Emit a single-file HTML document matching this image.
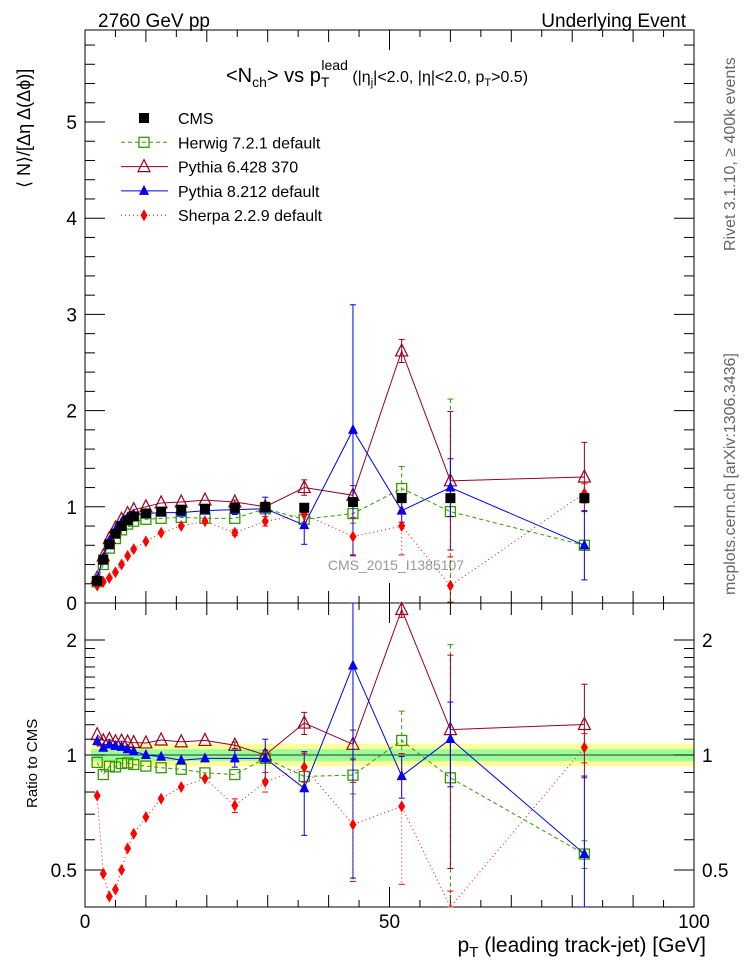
<!DOCTYPE html>
<html><head><meta charset="utf-8"><style>
body{margin:0;background:#fff;}
svg{display:block;font-family:"Liberation Sans",sans-serif;}
</style></head><body>
<svg id="plot" width="746" height="972" viewBox="0 0 746 972" xmlns="http://www.w3.org/2000/svg">
<text x="98" y="27" font-size="19">2760 GeV pp</text>
<text x="686" y="27" font-size="19" text-anchor="end">Underlying Event</text>
<text x="226" y="82" font-size="20">&lt;N<tspan font-size="14" dy="5">ch</tspan><tspan dy="-5">&gt; vs p</tspan><tspan font-size="14" dy="5">T</tspan><tspan font-size="14" dx="-8" dy="-17">lead</tspan><tspan font-size="16" dy="12"> (|η</tspan><tspan font-size="11" dy="4">j</tspan><tspan font-size="16" dy="-4">|&lt;2.0, |η|&lt;2.0, p</tspan><tspan font-size="11" dy="4">T</tspan><tspan font-size="16" dy="-4">&gt;0.5)</tspan></text>
<text x="396" y="570" font-size="14" fill="#999" text-anchor="middle">CMS_2015_I1385107</text>
<text transform="translate(735,595) rotate(-90)" font-size="16" fill="#666">mcplots.cern.ch [arXiv:1306.3436]</text>
<text transform="translate(735,251) rotate(-90)" font-size="16" fill="#666">Rivet 3.1.10, ≥ 400k events</text>
<text transform="translate(30,188) rotate(-90)" font-size="18">⟨ N⟩/[Δη Δ(Δϕ)]</text>
<text transform="translate(37,808) rotate(-90)" font-size="15">Ratio to CMS</text>
<text x="706" y="952" font-size="21" text-anchor="end">p<tspan font-size="15" dy="5">T</tspan><tspan dy="-5"> (leading track-jet) [GeV]</tspan></text>
<g id="main"></g>
<g id="ratio"></g>
<g id="legend"></g>
</svg>
<script>
const pt = [2,3,4,5,6,7,8,10,12.5,15.8,19.7,24.6,29.6,36,44,52,60,82];
const cms = [0.23,0.45,0.61,0.72,0.80,0.86,0.90,0.93,0.95,0.97,0.98,0.99,1.0,0.99,1.05,1.09,1.09,1.09];
const herwig = [0.22,0.40,0.57,0.67,0.76,0.82,0.85,0.87,0.88,0.89,0.88,0.88,0.98,0.87,0.93,1.19,0.95,0.60];
const herwigErr = [0,0,0,0,0,0,0,0,0,0,0,0,0.03,0.05,0.1,0.23,1.17,0.05];
const pythia6 = [0.26,0.49,0.67,0.78,0.87,0.93,0.97,1.0,1.04,1.05,1.07,1.05,1.0,1.2,1.12,2.62,1.27,1.31];
const pythia6Err = [0,0,0,0,0,0,0,0,0,0,0,0.02,0.03,0.08,0.1,0.12,0.72,0.36];
const pythia8 = [0.25,0.47,0.65,0.76,0.84,0.89,0.92,0.93,0.94,0.94,0.96,0.97,0.98,0.81,1.80,0.96,1.20,0.60];
const pythia8Err = [0,0,0,0,0,0,0,0,0,0,0,0.05,0.12,0.2,1.3,0.12,0.3,0.36];
const sherpa = [0.18,0.22,0.26,0.32,0.40,0.49,0.56,0.64,0.73,0.80,0.85,0.73,0.85,0.92,0.69,0.80,0.18,1.14];
const sherpaErr = [0,0,0,0,0,0,0,0,0,0,0,0.03,0.05,0.08,0.2,0.3,0.3,0.1];
const mainYTicks = [0,1,2,3,4,5];
const ratioYTicks = [0.5,1,2];
const xTicks = [0,50,100];

const NS="http://www.w3.org/2000/svg";
const X0=85,X1=694,MT=30,MB=603,RT=603,RB=907;
const xs=v=>X0+(v/100)*(X1-X0);
const ym=v=>MB-96.2*v;
const yr=v=>755-382*Math.log10(v);
function el(tag,attrs,parent){const e=document.createElementNS(NS,tag);for(const k in attrs)e.setAttribute(k,attrs[k]);parent.appendChild(e);return e;}
const main=document.getElementById('main'),ratio=document.getElementById('ratio'),legend=document.getElementById('legend');

const band1=el('rect',{x:xs(1),y:yr(1.07),width:X1-xs(1),height:yr(0.935)-yr(1.07),fill:'#ffff99'},ratio);


const band2=el('rect',{x:xs(1),y:yr(1.035),width:X1-xs(1),height:yr(0.965)-yr(1.035),fill:'#99ff99'},ratio);


el('line',{x1:xs(1),x2:X1,y1:yr(1),y2:yr(1),stroke:'#333','stroke-width':1},ratio);

[[MT,MB],[RT,RB]].forEach(([t,b],i)=>{
  const f=el('rect',{x:X0,y:t,width:X1-X0,height:b-t,fill:'none',stroke:'#000','stroke-width':1},i?ratio:main);
  
  
  for(let v=0;v<=100;v+=5){
    const L=v%50==0?20:(v%10==0?12:7);
    el('line',{x1:xs(v),x2:xs(v),y1:b,y2:b-L,stroke:'#000'},i?ratio:main);
    el('line',{x1:xs(v),x2:xs(v),y1:t,y2:t+L,stroke:'#000'},i?ratio:main);
  }
});
for(let v=0;v<=5.9;v+=0.2){const m=Math.abs(v-Math.round(v))<0.01;const L=m?20:10;
  el('line',{x1:X0,x2:X0+L,y1:ym(v),y2:ym(v),stroke:'#000'},main);
  el('line',{x1:X1,x2:X1-L,y1:ym(v),y2:ym(v),stroke:'#000'},main);}
mainYTicks.forEach(v=>{const t=el('text',{x:X0-8,y:ym(v)+7,'font-size':19,'text-anchor':'end'},main);t.textContent=v;
  
  });
[0.4,0.5,0.6,0.7,0.8,0.9,1,1.1,1.2,1.3,1.4,1.5,1.6,1.7,1.8,1.9,2,2.5].forEach(v=>{const L=(v==0.5||v==1||v==2)?20:10;
  el('line',{x1:X0,x2:X0+L,y1:yr(v),y2:yr(v),stroke:'#000'},ratio);
  el('line',{x1:X1,x2:X1-L,y1:yr(v),y2:yr(v),stroke:'#000'},ratio);});
ratioYTicks.forEach(v=>{
  const t=el('text',{x:X0-8,y:yr(v)+7,'font-size':19,'text-anchor':'end'},ratio);t.textContent=v;
  
  
  const t2=el('text',{x:X1+8,y:yr(v)+7,'font-size':19},ratio);t2.textContent=v;
  
  });
xTicks.forEach(v=>{const t=el('text',{x:xs(v),y:928,'font-size':19,'text-anchor':'middle'},ratio);t.textContent=v;
  
  });

function marker(g,type,x,y,color){
  if(type=='sq') return el('rect',{x:x-5,y:y-5,width:10,height:10,fill:'none',stroke:color,'stroke-width':1.3},g);
  if(type=='fsq') return el('rect',{x:x-5,y:y-5,width:10,height:10,fill:color},g);
  if(type=='otri') return el('polygon',{points:`${x},${y-7} ${x-6},${y+5} ${x+6},${y+5}`,fill:'none',stroke:color,'stroke-width':1.2},g);
  if(type=='tri') return el('polygon',{points:`${x},${y-6} ${x-5},${y+4} ${x+5},${y+4}`,fill:color},g);
  return el('polygon',{points:`${x},${y-6} ${x-3.5},${y} ${x},${y+6} ${x+3.5},${y}`,fill:color},g);
}
const series=[
 {name:'herwig',vals:herwig,err:herwigErr,color:'#339900',dash:'4,3',m:'sq'},
 {name:'pythia6',vals:pythia6,err:pythia6Err,color:'#990022',dash:'',m:'otri'},
 {name:'pythia8',vals:pythia8,err:pythia8Err,color:'#0000ee',dash:'',m:'tri'},
 {name:'sherpa',vals:sherpa,err:sherpaErr,color:'#ff0000',dash:'1,3',m:'dia'}];
const clip=(v,lo,hi)=>Math.max(lo,Math.min(hi,v));
series.forEach(s=>{
  [[main,ym,s.vals,s.err,MT,MB],[ratio,yr,s.vals.map((v,i)=>v/cms[i]),s.err.map((e,i)=>e/cms[i]),RT,RB]].forEach(([g,yf,vals,err,t,b],pi)=>{
    const pts=vals.map((v,i)=>xs(pt[i])+','+clip(yf(Math.max(v,0.01)),t,b)).join(' ');
    const pl=el('polyline',{points:pts,fill:'none',stroke:s.color,'stroke-width':1,'stroke-dasharray':s.dash},g);
    
    
    vals.forEach((v,i)=>{
      if(err[i]>0){const x=xs(pt[i]);
        const y1=clip(yf(v+err[i]),t,b),y2=clip(yf(Math.max(v-err[i],0.01)),t,b);
        el('line',{x1:x,x2:x,y1:y1,y2:y2,stroke:s.color,'stroke-dasharray':s.dash},g);
        el('line',{x1:x-3,x2:x+3,y1:y1,y2:y1,stroke:s.color},g);
        el('line',{x1:x-3,x2:x+3,y1:y2,y2:y2,stroke:s.color},g);}
      const y=yf(Math.max(v,0.01));
      if(y<t||y>b) return;
      const mk=marker(g,s.m,xs(pt[i]),y,s.color);
      
      
    });
  });
});
cms.forEach((v,i)=>{const mk=marker(main,'fsq',xs(pt[i]),ym(v),'#000');
  
  });

const leg=[['CMS','#000','','fsq',false],['Herwig 7.2.1 default','#339900','4,3','sq',true],['Pythia 6.428 370','#990022','','otri',true],['Pythia 8.212 default','#0000ee','','tri',true],['Sherpa 2.2.9 default','#ff0000','1,3','dia',true]];
leg.forEach((l,i)=>{const y=118+i*24.3;
  const g=el('g',{},legend);
  
  
  if(l[4]) el('line',{x1:121,x2:168,y1:y,y2:y,stroke:l[1],'stroke-dasharray':l[2]},g);
  marker(g,l[3],144,y,l[1]);
  const t=el('text',{x:178,y:y+6,'font-size':16},g);t.textContent=l[0];});
</script>
</body></html>
